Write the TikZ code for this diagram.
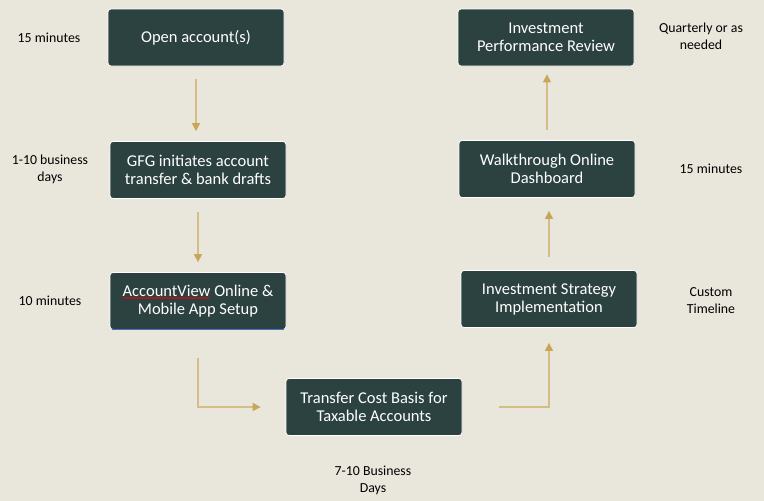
\documentclass[tikz,border=0pt]{standalone}
\usepackage{fontspec}
\setmainfont{Carlito}
\usetikzlibrary{arrows.meta, decorations.pathmorphing}
\definecolor{bgbeige}{HTML}{E9E7DB}
\definecolor{boxgreen}{HTML}{2B4240}
\definecolor{gold}{HTML}{D4BE86}
\definecolor{goldtip}{HTML}{C8A658}
\definecolor{editblue}{HTML}{4472C4}

\tikzset{
  stepbox/.style={draw=white, line width=0.8pt, fill=boxgreen, rounded corners=3pt,
    minimum width=176pt, minimum height=57pt, text=white, align=center,
    font=\fontsize{16.5}{18}\selectfont},
  timelabel/.style={align=center, font=\fontsize{13.8}{17}\selectfont},
  flow/.style={draw=gold, line width=1.3pt,
    -{Triangle[length=8pt, width=8pt, color=goldtip]}}
}

\begin{document}
\begin{tikzpicture}[x=1pt, y=-1pt]

  % Background
  \useasboundingbox (0,0) rectangle (764,501);
  \fill[bgbeige] (0,0) rectangle (764,501);

  % Steps
  \node[stepbox] (open)     at (196,37.5) {Open account(s)};
  \node[stepbox] (transfer) at (198,170)  {GFG initiates account\\transfer \& bank drafts};
  \node[stepbox] (setup)    at (198,301)  {AccountView Online \&\\Mobile App Setup};
  \node[stepbox] (basis)    at (374,407)  {Transfer Cost Basis for\\Taxable Accounts};
  \node[stepbox] (strategy) at (549,299)  {Investment Strategy\\Implementation};
  \node[stepbox] (dash)     at (547,169)  {Walkthrough Online\\Dashboard};
  \node[stepbox] (review)   at (546,37.5) {Investment\\Performance Review};

  % Editor marks on the setup box
  \draw[editblue, line width=0.9pt] ([xshift=2pt]setup.south west) -- ([xshift=-2pt]setup.south east);
  \draw[red, line width=0.5pt, decorate,
    decoration={snake, amplitude=0.7pt, segment length=2.5pt}] (123,298) -- (210,298);

  % Durations
  \node[timelabel] (t1) at (49,38)   {15 minutes};
  \node[timelabel] (t2) at (50,169)  {1-10 business\\days};
  \node[timelabel] (t3) at (50,301)  {10 minutes};
  \node[timelabel] (t4) at (373,480) {7-10 Business\\Days};
  \node[timelabel] (t5) at (711,301) {Custom\\Timeline};
  \node[timelabel] (t6) at (711,169) {15 minutes};
  \node[timelabel] (t7) at (701,36)  {Quarterly or as\\needed};

  % Flow
  \draw[flow, shorten <=13pt, shorten >=10pt] (open.south) -- (open.south |- transfer.north);
  \draw[flow, shorten <=13pt, shorten >=10pt] (transfer.south) -- (transfer.south |- setup.north);
  \draw[flow] ([yshift=-28pt]setup.south) |- ([xshift=-25pt]basis.west);
  \draw[flow] ([xshift=37pt]basis.east) -| ([yshift=-15pt]strategy.south);
  \draw[flow, shorten <=13pt, shorten >=13pt] (strategy.north) -- (strategy.north |- dash.south);
  \draw[flow, shorten <=10pt, shorten >=8pt] (dash.north) -- (dash.north |- review.south);

\end{tikzpicture}
\end{document}
